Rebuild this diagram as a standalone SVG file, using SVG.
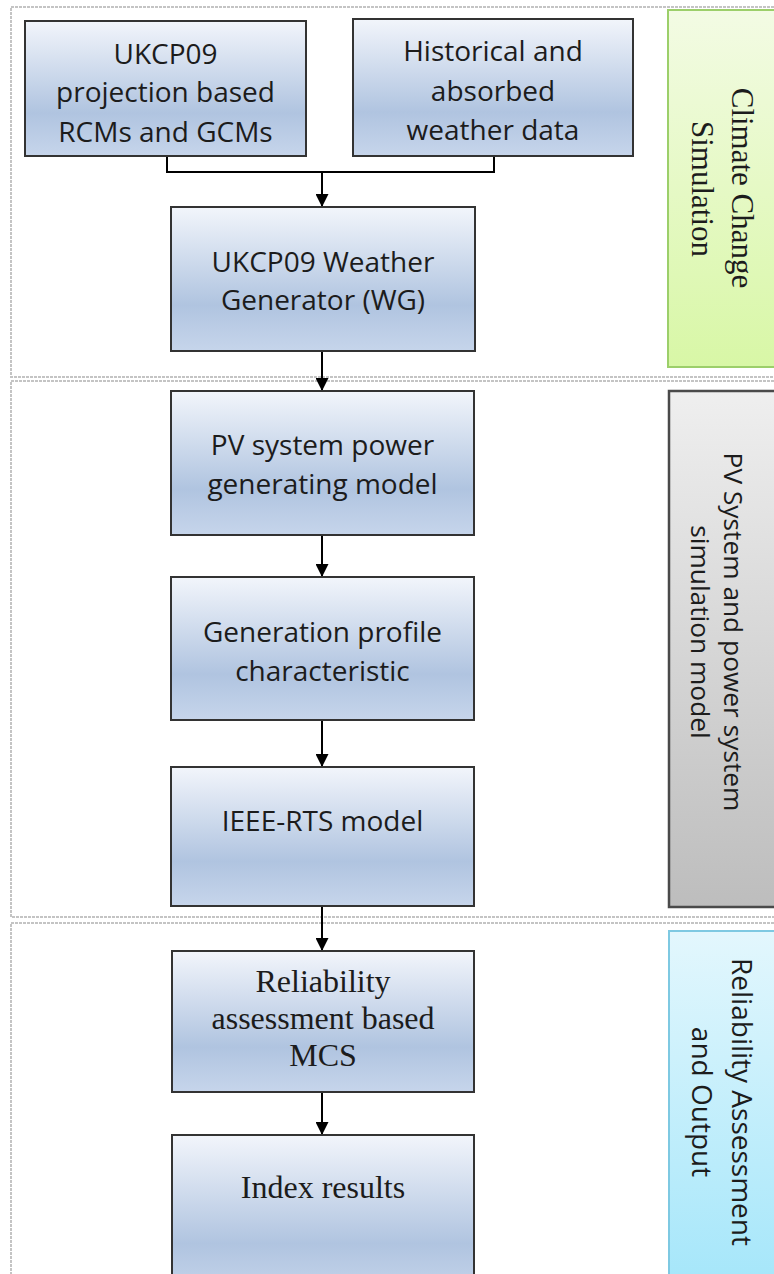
<svg xmlns="http://www.w3.org/2000/svg" width="774" height="1274" viewBox="0 0 774 1274">
  <defs>
    <linearGradient id="boxFill" x1="0" y1="0" x2="0" y2="1">
      <stop offset="0" stop-color="#f2f5fb"/>
      <stop offset="0.68" stop-color="#b0c4e0"/>
      <stop offset="1" stop-color="#c6d5eb"/>
    </linearGradient>
    <linearGradient id="greenFill" x1="0" y1="0" x2="0" y2="1">
      <stop offset="0" stop-color="#f3fbe4"/>
      <stop offset="1" stop-color="#d8f7a6"/>
    </linearGradient>
    <linearGradient id="grayFill" x1="0" y1="0" x2="0" y2="1">
      <stop offset="0" stop-color="#efefef"/>
      <stop offset="1" stop-color="#bdbdbd"/>
    </linearGradient>
    <linearGradient id="cyanFill" x1="0" y1="0" x2="0" y2="1">
      <stop offset="0" stop-color="#e3f7fd"/>
      <stop offset="1" stop-color="#a4e6fa"/>
    </linearGradient>
    <marker id="arrow" viewBox="0 0 12 12" refX="12" refY="6" markerWidth="13" markerHeight="13" markerUnits="userSpaceOnUse" orient="auto">
      <path d="M0,0 L12,6 L0,12 Z" fill="#000"/>
    </marker>
  </defs>
  <style>
    .section { fill: none; stroke: #c4c4c4; stroke-width: 2; stroke-dasharray: 3 1; }
    .box { fill: url(#boxFill); stroke: #333; stroke-width: 2; }
    .sans { font-family: "Open Sans", "Liberation Sans", sans-serif; font-size: 28px; fill: #1c1c1c; text-anchor: middle; }
    .sans-side { font-family: "Open Sans", "Liberation Sans", sans-serif; font-size: 26.3px; fill: #1c1c1c; text-anchor: middle; }
    .serif { font-family: "Liberation Serif", "Times New Roman", serif; font-size: 32px; fill: #1c1c1c; text-anchor: middle; }
    .side-serif { font-family: "Liberation Serif", "Times New Roman", serif; font-size: 31px; fill: #1c1c1c; text-anchor: middle; }
    .wire { fill: none; stroke: #000; stroke-width: 2; }
  </style>

  <rect width="774" height="1274" fill="#fff"/>

  <!-- section frames -->
  <g id="sections">
    <rect class="section" x="11" y="7" width="790" height="370"/>
    <rect class="section" x="11" y="381" width="790" height="536"/>
    <rect class="section" x="11" y="923" width="790" height="380"/>
  </g>

  <!-- side labels -->
  <g id="label-climate">
    <rect x="668" y="10" width="120" height="357" fill="url(#greenFill)" stroke="#9ccf6a" stroke-width="2"/>
    <text class="side-serif" transform="translate(732,188) rotate(90)">Climate Change</text>
    <text class="side-serif" transform="translate(692,189) rotate(90)">Simulation</text>
  </g>
  <g id="label-pv">
    <rect x="669" y="391" width="120" height="516" fill="url(#grayFill)" stroke="#4a4a4a" stroke-width="2.5"/>
    <text class="sans-side" transform="translate(724,632) rotate(90)">PV System and power system</text>
    <text class="sans-side" transform="translate(691,632) rotate(90)">simulation model</text>
  </g>
  <g id="label-reliability">
    <rect x="669" y="931" width="120" height="360" fill="url(#cyanFill)" stroke="#7ec9e2" stroke-width="2"/>
    <text class="sans" transform="translate(732,1102) rotate(90)">Reliability Assessment</text>
    <text class="sans" transform="translate(692,1102) rotate(90)">and Output</text>
  </g>

  <!-- connectors -->
  <g id="connectors">
    <path class="wire" d="M167,156 V172 H494 V156"/>
    <path class="wire" d="M322,172 V207" marker-end="url(#arrow)"/>
    <path class="wire" d="M322,351 V391" marker-end="url(#arrow)"/>
    <path class="wire" d="M322,535 V577" marker-end="url(#arrow)"/>
    <path class="wire" d="M322,720 V767" marker-end="url(#arrow)"/>
    <path class="wire" d="M322,906 V951" marker-end="url(#arrow)"/>
    <path class="wire" d="M322,1092 V1135" marker-end="url(#arrow)"/>
  </g>

  <!-- process nodes -->
  <g id="node-ukcp09-proj">
    <rect class="box" x="25" y="21" width="281" height="135"/>
    <text class="sans" x="165.5" y="64">UKCP09</text>
    <text class="sans" x="165.5" y="102">projection based</text>
    <text class="sans" x="165.5" y="142">RCMs and GCMs</text>
  </g>
  <g id="node-historical">
    <rect class="box" x="353" y="19" width="280" height="137"/>
    <text class="sans" x="493" y="61">Historical and</text>
    <text class="sans" x="493" y="101">absorbed</text>
    <text class="sans" x="493" y="140">weather data</text>
  </g>
  <g id="node-wg">
    <rect class="box" x="171" y="207" width="304" height="144"/>
    <text class="sans" x="323" y="272">UKCP09 Weather</text>
    <text class="sans" x="323" y="310">Generator (WG)</text>
  </g>
  <g id="node-pv-model">
    <rect class="box" x="171" y="391" width="303" height="144"/>
    <text class="sans" x="322.5" y="455">PV system power</text>
    <text class="sans" x="322.5" y="494">generating model</text>
  </g>
  <g id="node-gen-profile">
    <rect class="box" x="171" y="577" width="303" height="143"/>
    <text class="sans" x="322.5" y="642">Generation profile</text>
    <text class="sans" x="322.5" y="681">characteristic</text>
  </g>
  <g id="node-ieee-rts">
    <rect class="box" x="171" y="767" width="303" height="139"/>
    <text class="sans" x="322.5" y="831">IEEE-RTS model</text>
  </g>
  <g id="node-mcs">
    <rect class="box" x="172" y="951" width="302" height="141"/>
    <text class="serif" x="323" y="992">Reliability</text>
    <text class="serif" x="323" y="1029">assessment based</text>
    <text class="serif" x="323" y="1066">MCS</text>
  </g>
  <g id="node-index">
    <rect class="box" x="172" y="1135" width="302" height="160"/>
    <text class="serif" x="323" y="1198">Index results</text>
  </g>
</svg>
